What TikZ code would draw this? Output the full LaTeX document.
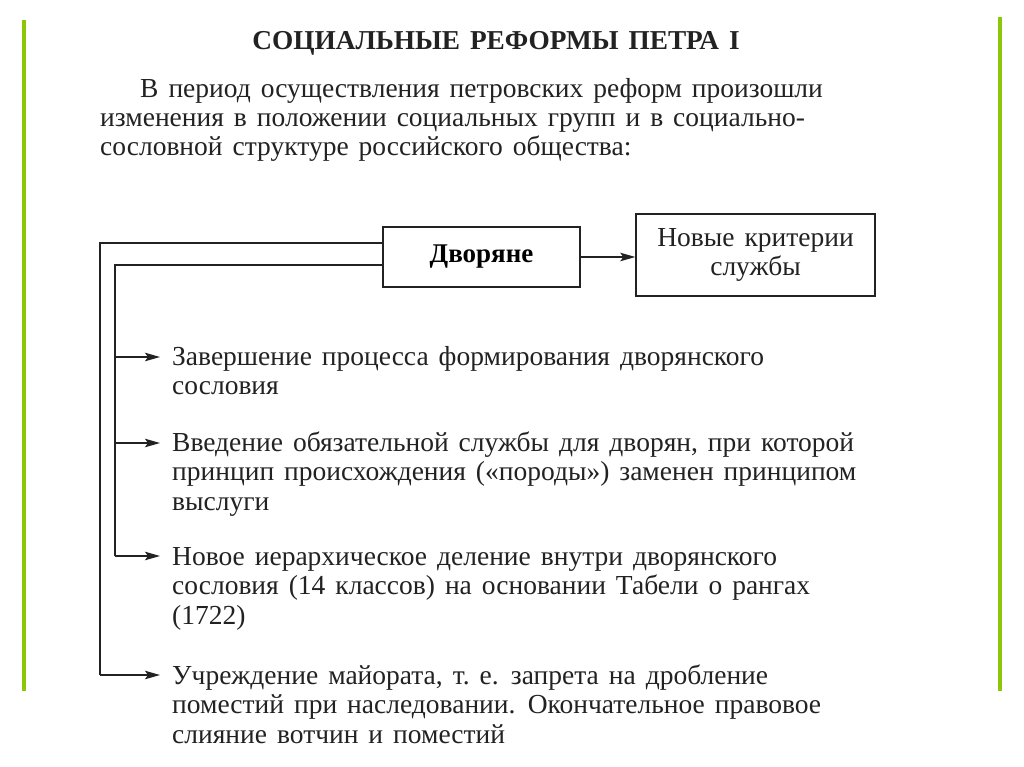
\documentclass[tikz,border=0pt]{standalone}
\usepackage{fontspec}
\setmainfont{Liberation Serif}[WordSpace={1.45,1,1}]
\usetikzlibrary{arrows.meta}
\definecolor{bargreen}{HTML}{8CC70A}
\definecolor{ink}{HTML}{222222}
\begin{document}
\begin{tikzpicture}[x=1pt,y=-1pt,
  txt/.style={anchor=base west,inner sep=0pt,align=left,font=\fontsize{27.5}{29.6}\selectfont,text=ink},
  box/.style={draw=ink,line width=1.4pt,inner sep=0pt},
  conn/.style={draw=ink,line width=1.4pt},
  arr/.style={conn,-{Stealth[length=15pt,width=8.5pt,inset=3pt]}},
  bar/.style={draw=bargreen,line width=4pt}]
\useasboundingbox (0,0) rectangle (1024,767);
\fill[white] (0,0) rectangle (1024,767);
\draw[bar] (24,20) -- (24,691);
\draw[bar] (1000,17) -- (1000,691);
\node[anchor=base,inner sep=0pt,font=\fontsize{27.3}{30}\selectfont\bfseries,text=ink] (title) at (496,50) {СОЦИАЛЬНЫЕ РЕФОРМЫ ПЕТРА I};
\node[txt] (p1) at (140,98) {В период осуществления петровских реформ произошли};
\node[txt] (p2) at (100,156) {изменения в положении социальных групп и в социально-\\сословной структуре российского общества:};
\node[box,minimum width=197pt,minimum height=60pt] (dv) at (481.5,257) {\fontsize{27}{30}\selectfont\bfseries Дворяне};
\node[box,minimum width=239pt,minimum height=82pt,align=center,font=\fontsize{27.5}{29.6}\selectfont,text=ink] (nk) at (755.5,255) {Новые критерии\\службы};
\draw[arr] (dv.east) -- (dv.east -| nk.west);
\coordinate (o1) at (100,243);
\coordinate (i1) at (115,265);
\node[txt] (t1) at (172,394.6) {Завершение процесса формирования дворянского\\сословия};
\node[txt] (t2) at (172,510.2) {Введение обязательной службы для дворян, при которой\\принцип происхождения («породы») заменен принципом\\выслуги};
\node[txt] (t3) at (172,624.2) {Новое иерархическое деление внутри дворянского\\сословия (14 классов) на основании Табели о рангах\\(1722)};
\node[txt] (t4) at (172,743.2) {Учреждение майората, т.~е. запрета на дробление\\поместий при наследовании. Окончательное правовое\\слияние вотчин и поместий};
\coordinate (a1) at (115,357);
\coordinate (a2) at (115,443);
\coordinate (a3) at (115,556);
\coordinate (a4) at (100,675);
\draw[conn] (dv.west |- o1) -- (o1) -- (a4);
\draw[conn] (dv.west |- i1) -- (i1) -- (a3);
\draw[arr] (a1) -- (160,357);
\draw[arr] (a2) -- (160,443);
\draw[arr] (a3) -- (160,556);
\draw[arr] (a4) -- (160,675);
\end{tikzpicture}
\end{document}
